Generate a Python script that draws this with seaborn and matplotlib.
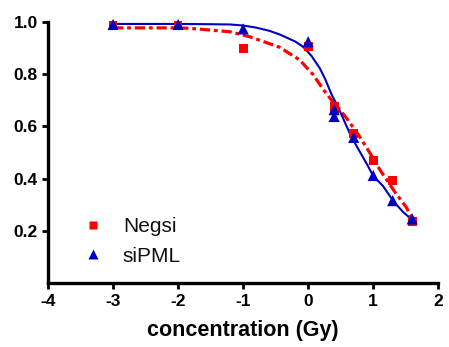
import numpy as np
import pandas as pd
import seaborn as sns
import matplotlib
matplotlib.use("Agg")
import matplotlib.pyplot as plt

# ---- data ----
dose_x = [-3.0, -2.0, -1.0, 0.0, 0.4, 0.4, 0.7, 1.0, 1.3, 1.6]
negsi_y = [0.987, 0.985, 0.898, 0.905, 0.676, 0.664, 0.574, 0.470, 0.393, 0.235]
sipml_y = [0.990, 0.990, 0.973, 0.924, 0.664, 0.638, 0.558, 0.412, 0.316, 0.246]

# fitted curves as drawn in the reference
negsi_curve_x = [-3.0, -2.0, -1.8, -1.2, -0.9, -0.44, -0.13, 0.08, 0.23, 0.36, 0.5, 0.61, 0.78, 0.97, 1.1, 1.33, 1.51, 1.62]
negsi_curve_y = [0.977, 0.977, 0.975, 0.962, 0.943, 0.903, 0.854, 0.797, 0.742, 0.700, 0.660, 0.625, 0.565, 0.490, 0.435, 0.350, 0.290, 0.240]
sipml_curve_x = [-3.0, -2.0, -1.5, -1.2, -1.0, -0.8, -0.6, -0.44, -0.2, -0.08, 0.05, 0.18, 0.26, 0.36, 0.46, 0.66, 0.92, 1.0, 1.15, 1.31, 1.46, 1.62]
sipml_curve_y = [0.992, 0.992, 0.991, 0.990, 0.986, 0.978, 0.966, 0.952, 0.925, 0.905, 0.870, 0.822, 0.782, 0.722, 0.674, 0.562, 0.448, 0.410, 0.372, 0.314, 0.272, 0.238]

groups = ["Negsi", "siPML"]
x_ticks = [-4, -3, -2, -1, 0, 1, 2]
y_ticks = [0.2, 0.4, 0.6, 0.8, 1.0]
x_label = "concentration (Gy)"

colors = {"Negsi": "#ff0000", "siPML": "#0000c0"}
markers = {"Negsi": "s", "siPML": "^"}
msizes = {"Negsi": 40, "siPML": 65}

pts = pd.DataFrame({
    "x": dose_x + dose_x,
    "y": negsi_y + sipml_y,
    "group": ["Negsi"] * len(dose_x) + ["siPML"] * len(dose_x),
})
neg_curve = pd.DataFrame({"x": negsi_curve_x, "y": negsi_curve_y})
sip_curve = pd.DataFrame({"x": sipml_curve_x, "y": sipml_curve_y})

sns.set_style("ticks")
plt.rcParams["font.family"] = ["Liberation Sans", "DejaVu Sans"]

fig = plt.figure(figsize=(4.49, 3.47), dpi=100)
ax = fig.add_axes([0.107, 0.184, 0.869, 0.753])

sns.lineplot(data=neg_curve, x="x", y="y", ax=ax, color=colors["Negsi"], lw=2.3,
             sort=False, legend=False, clip_on=False)
ax.lines[-1].set_dashes([3.2, 1.2, 1.2, 1.2])
sns.lineplot(data=sip_curve, x="x", y="y", ax=ax, color=colors["siPML"], lw=1.5,
             sort=False, legend=False, clip_on=False)
sns.scatterplot(data=pts, x="x", y="y", hue="group", style="group", size="group",
                palette=colors, markers=markers, sizes=msizes, edgecolor="none",
                ax=ax, clip_on=False, zorder=5)

ax.set_xlim(-4, 2)
ax.set_ylim(0, 1.0)
ax.set_xticks(x_ticks)
ax.set_yticks(y_ticks)
ax.set_xticklabels([str(t) for t in x_ticks], fontweight="bold", fontsize=12.5, color="black")
ax.set_yticklabels([f"{t:.1f}" for t in y_ticks], fontweight="bold", fontsize=12.5, color="black")
ax.set_xlabel(x_label, fontweight="bold", fontsize=15.5, labelpad=8, color="black")
ax.set_ylabel("")
for side in ["top", "right"]:
    ax.spines[side].set_visible(False)
for side in ["left", "bottom"]:
    ax.spines[side].set_linewidth(2.4)
    ax.spines[side].set_color("black")
ax.tick_params(width=2, length=4.5, pad=3, colors="black")

h, l = ax.get_legend_handles_labels()
leg = ax.legend(h, l, loc="lower left", bbox_to_anchor=(0.088, 0.067), frameon=False,
                fontsize=15, handlelength=1.0, handletextpad=0.94, labelspacing=0.49,
                borderpad=0, borderaxespad=0, labelcolor="#111111")
for hd, lab in zip(leg.legend_handles, l):
    try:
        hd.set_markersize(5.5 if lab == "Negsi" else 7)
    except Exception:
        pass

fig.savefig("out.png", dpi=100)
